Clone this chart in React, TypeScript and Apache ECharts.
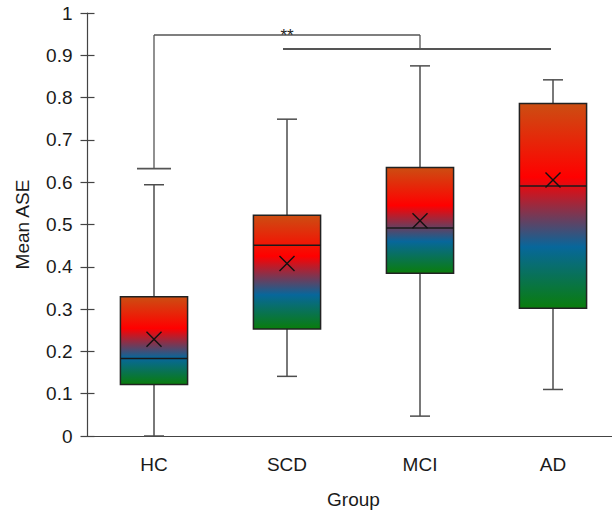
import React, { useEffect, useRef } from "react";
import * as echarts from "echarts";

const categories = ["HC", "SCD", "MCI", "AD"];
const minValues = [0.0, 0.141, 0.047, 0.11];
const q1Values = [0.122, 0.253, 0.385, 0.302];
const medianValues = [0.183, 0.451, 0.492, 0.591];
const q3Values = [0.329, 0.522, 0.635, 0.786];
const maxValues = [0.594, 0.749, 0.875, 0.842];
const meanValues = [0.229, 0.408, 0.509, 0.605];
const yTicks = { min: 0, max: 1, interval: 0.1 };

// significance bracket
const bracketFrom = 0; // HC
const bracketTo = 2; // MCI
const bracketLow = 0.632;
const bracketHigh = 0.948;
const bracketJoin = 0.915;
const spanFrom = 1; // SCD
const spanTo = 3; // AD
const sigLabel = "**";

const FONT = "Liberation Sans, Arial, sans-serif";

export default function App() {
  const ref = useRef<HTMLDivElement>(null);
  useEffect(() => {
    if (!ref.current) return;
    const chart = echarts.init(ref.current, null, { renderer: "svg" });
    const boxData = categories.map((_, i) => [
      i,
      minValues[i],
      q1Values[i],
      medianValues[i],
      q3Values[i],
      maxValues[i],
      meanValues[i],
    ]);
    const whisker = "#4d4d4d";
    const renderBox = (params: any, api: any) => {
      const i = api.value(0);
      const [x, yMin] = api.coord([i, api.value(1)]);
      const yQ1 = api.coord([i, api.value(2)])[1];
      const yMed = api.coord([i, api.value(3)])[1];
      const yQ3 = api.coord([i, api.value(4)])[1];
      const yMax = api.coord([i, api.value(5)])[1];
      const yMean = api.coord([i, api.value(6)])[1];
      const band = api.size([1, 0])[0];
      const bw = band * 0.505;
      const cap = 10;
      const xs = 7.5;
      const grad = new echarts.graphic.LinearGradient(0, 0, 0, 1, [
        { offset: 0, color: "#cc4e12" },
        { offset: 0.36, color: "#ff0000" },
        { offset: 0.7, color: "#07679b" },
        { offset: 1, color: "#0a7d0c" },
      ]);
      const ls = { stroke: whisker, lineWidth: 1.5 };
      return {
        type: "group",
        children: [
          { type: "line", shape: { x1: x, y1: yQ1, x2: x, y2: yMin }, style: ls },
          { type: "line", shape: { x1: x, y1: yQ3, x2: x, y2: yMax }, style: ls },
          { type: "line", shape: { x1: x - cap, y1: yMin, x2: x + cap, y2: yMin }, style: ls },
          { type: "line", shape: { x1: x - cap, y1: yMax, x2: x + cap, y2: yMax }, style: ls },
          {
            type: "rect",
            shape: { x: x - bw / 2, y: yQ3, width: bw, height: yQ1 - yQ3 },
            style: { fill: grad, stroke: "#222", lineWidth: 1.5 },
          },
          {
            type: "line",
            shape: { x1: x - bw / 2, y1: yMed, x2: x + bw / 2, y2: yMed },
            style: { stroke: "#1a1a1a", lineWidth: 1.5 },
          },
          {
            type: "line",
            shape: { x1: x - xs, y1: yMean - xs, x2: x + xs, y2: yMean + xs },
            style: { stroke: "#111", lineWidth: 1.4 },
          },
          {
            type: "line",
            shape: { x1: x - xs, y1: yMean + xs, x2: x + xs, y2: yMean - xs },
            style: { stroke: "#111", lineWidth: 1.4 },
          },
        ],
      };
    };
    const renderBracket = (params: any, api: any) => {
      const [xA, yLow] = api.coord([bracketFrom, bracketLow]);
      const [xB, yHigh] = api.coord([bracketTo, bracketHigh]);
      const yJoin = api.coord([bracketTo, bracketJoin])[1];
      const xS1 = api.coord([spanFrom, 0])[0];
      const xS2 = api.coord([spanTo, 0])[0];
      const ls = { stroke: "#555", lineWidth: 1.3 };
      return {
        type: "group",
        children: [
          { type: "line", shape: { x1: xA - 17, y1: yLow, x2: xA + 17, y2: yLow }, style: { stroke: "#555", lineWidth: 1.6 } },
          { type: "line", shape: { x1: xA, y1: yLow, x2: xA, y2: yHigh }, style: ls },
          { type: "line", shape: { x1: xA, y1: yHigh, x2: xB, y2: yHigh }, style: ls },
          { type: "line", shape: { x1: xB, y1: yHigh, x2: xB, y2: yJoin }, style: ls },
          { type: "line", shape: { x1: xS1 - 4, y1: yJoin, x2: xS2 - 2, y2: yJoin }, style: { stroke: "#555", lineWidth: 2 } },
          {
            type: "text",
            style: {
              x: xS1,
              y: yHigh + 9,
              text: sigLabel,
              fill: "#222",
              font: `17px ${FONT}`,
              align: "center",
              verticalAlign: "bottom",
            },
          },
        ],
      };
    };
    chart.setOption({
      animation: false,
      backgroundColor: "#fff",
      grid: { left: 87.5, top: 13, width: 532, height: 423, outerBoundsMode: "none", containLabel: false },
      xAxis: {
        type: "category",
        data: categories,
        boundaryGap: true,
        axisLine: { show: true, lineStyle: { color: "#444", width: 1.2 } },
        axisTick: { show: false },
        axisLabel: { color: "#1a1a1a", fontSize: 19, fontFamily: FONT, margin: 19 },
        name: "Group",
        nameLocation: "middle",
        nameGap: 54,
        nameTextStyle: { color: "#1a1a1a", fontSize: 19, fontFamily: FONT },
        splitLine: { show: false },
      },
      yAxis: [
        {
          type: "value",
          min: yTicks.min,
          max: yTicks.max,
          interval: yTicks.interval,
          axisLine: { show: true, lineStyle: { color: "#444", width: 1.2 } },
          axisTick: { show: true, length: 7, lineStyle: { color: "#444", width: 1.2 } },
          axisLabel: { color: "#1a1a1a", fontSize: 19, fontFamily: FONT, margin: 15 },
          splitLine: { show: false },
          name: "Mean ASE",
          nameLocation: "middle",
          nameGap: 56,
          nameRotate: 90,
          nameTextStyle: { color: "#1a1a1a", fontSize: 19, fontFamily: FONT },
        },
        {
          type: "value",
          position: "left",
          min: yTicks.min,
          max: yTicks.max,
          interval: yTicks.interval,
          axisLine: { show: false },
          axisTick: { show: true, inside: true, length: 7, lineStyle: { color: "#444", width: 1.2 } },
          axisLabel: { show: false },
          splitLine: { show: false },
        },
      ],
      series: [
        {
          type: "custom",
          renderItem: renderBox,
          data: boxData,
          encode: { x: 0, y: [1, 2, 3, 4, 5, 6] },
          clip: false,
          z: 3,
        },
        {
          type: "custom",
          renderItem: renderBracket,
          data: [[0, bracketHigh]],
          encode: { x: 0, y: 1 },
          clip: false,
          z: 2,
        },
      ],
    });
    return () => chart.dispose();
  }, []);
  return (
    <div
      ref={ref}
      style={{ position: "absolute", left: 0, top: 0, width: 612, height: 512 }}
    />
  );
}
